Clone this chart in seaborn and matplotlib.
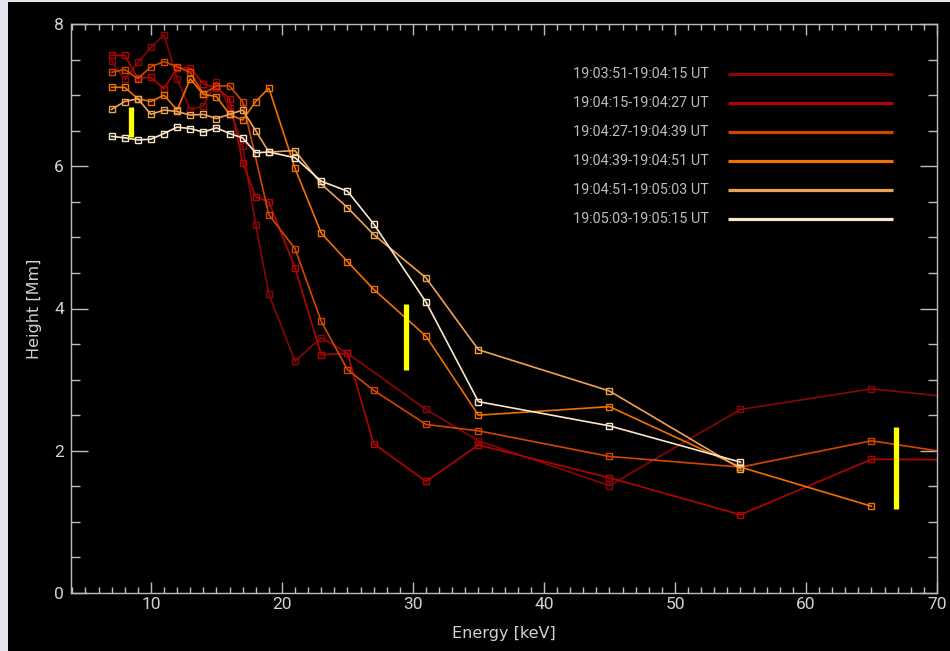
import numpy as np
import pandas as pd
import matplotlib
matplotlib.use("Agg")
import matplotlib.pyplot as plt
import seaborn as sns
from matplotlib.patches import Rectangle
from matplotlib.ticker import MultipleLocator

# ---------------- data ----------------
labels = ["19:03:51-19:04:15 UT", "19:04:15-19:04:27 UT", "19:04:27-19:04:39 UT",
          "19:04:39-19:04:51 UT", "19:04:51-19:05:03 UT", "19:05:03-19:05:15 UT"]
colors = ["#8a0606", "#b30303", "#d64500", "#f07000", "#eea254", "#fbe6cc"]

e1 = [7, 8, 9, 10, 11, 12, 13, 14, 15, 16, 17, 18, 19, 21, 23, 25, 31, 35, 45, 55, 65, 75]
h1 = [7.48, 7.22, 7.46, 7.67, 7.85, 7.23, 6.79, 6.85, 7.19, 6.82, 6.28, 5.18, 4.20, 3.26, 3.59,
      3.37, 2.58, 2.14, 1.51, 2.58, 2.87, 2.68]
e2 = [7, 8, 9, 10, 11, 12, 13, 14, 15, 16, 17, 18, 19, 21, 23, 25, 27, 31, 35, 45, 55, 65, 75]
h2 = [7.56, 7.56, 7.24, 7.25, 7.09, 7.38, 7.38, 7.16, 7.10, 6.95, 6.05, 5.57, 5.50, 4.57, 3.35,
      3.37, 2.10, 1.57, 2.08, 1.62, 1.10, 1.88, 1.87]
e3 = [7, 8, 9, 10, 11, 12, 13, 14, 15, 16, 17, 19, 21, 23, 25, 27, 31, 35, 45, 55, 65, 75]
h3 = [7.32, 7.36, 7.23, 7.40, 7.47, 7.40, 7.32, 7.02, 7.13, 7.13, 6.91, 5.32, 4.84, 3.82, 3.14,
      2.85, 2.37, 2.28, 1.92, 1.77, 2.14, 1.86]
e4 = [7, 8, 9, 10, 11, 12, 13, 14, 15, 16, 17, 18, 19, 21, 23, 25, 27, 31, 35, 45, 55, 65]
h4 = [7.11, 7.11, 6.95, 6.91, 7.00, 6.79, 7.23, 7.01, 6.98, 6.73, 6.65, 6.91, 7.10, 5.97, 5.06,
      4.66, 4.27, 3.61, 2.50, 2.62, 1.77, 1.22]
e5 = [7, 8, 9, 10, 11, 12, 13, 14, 15, 16, 17, 18, 19, 21, 23, 25, 27, 31, 35, 45, 55]
h5 = [6.80, 6.91, 6.95, 6.73, 6.79, 6.77, 6.72, 6.73, 6.67, 6.73, 6.79, 6.50, 6.20, 6.22, 5.75,
      5.42, 5.04, 4.43, 3.42, 2.84, 1.75]
e6 = [7, 8, 9, 10, 11, 12, 13, 14, 15, 16, 17, 18, 19, 21, 23, 25, 27, 31, 35, 45, 55]
h6 = [6.42, 6.40, 6.37, 6.38, 6.46, 6.55, 6.53, 6.48, 6.54, 6.46, 6.40, 6.19, 6.20, 6.12, 5.79,
      5.65, 5.19, 4.09, 2.69, 2.35, 1.84]

# yellow uncertainty bars
bar_x = [8.45, 29.45, 66.9]
bar_lo = [6.41, 3.13, 1.18]
bar_hi = [6.83, 4.07, 2.33]

x_ticks = [10, 20, 30, 40, 50, 60, 70]
y_ticks = [0, 2, 4, 6, 8]

energies = [e1, e2, e3, e4, e5, e6]
heights = [h1, h2, h3, h4, h5, h6]
df = pd.concat([pd.DataFrame({"energy": e, "height": h, "interval": lab})
                for e, h, lab in zip(energies, heights, labels)], ignore_index=True)

# ---------------- figure ----------------
plt.rcParams["font.family"] = ["Roboto", "DejaVu Sans"]
fig = plt.figure(figsize=(9.5, 6.51), dpi=100, facecolor="#e4e5f1")
bg = Rectangle((8 / 950, 0), 1, 649 / 651, transform=fig.transFigure,
               facecolor="black", edgecolor="none", zorder=-10)
fig.patches.append(bg)
ax = fig.add_axes([71 / 950, 58 / 651, 866 / 950, 569 / 651])
ax.set_zorder(1)
ax.set_facecolor("black")

sns.lineplot(data=df, x="energy", y="height", hue="interval", hue_order=labels,
             palette=dict(zip(labels, colors)), marker="s", markersize=4.0,
             mfc="none", mew=1.0, linewidth=1.2, estimator=None, sort=True,
             legend=False, ax=ax)
for ln, c in zip(ax.lines, colors):
    ln.set_markeredgecolor(c)

ax.vlines(bar_x, bar_lo, bar_hi, colors="#ffff00", linewidth=3.8, zorder=5)

ax.set_xlim(3.9, 70)
ax.set_ylim(0, 8)
ax.set_xticks(x_ticks)
ax.set_yticks(y_ticks)
ax.xaxis.set_minor_locator(MultipleLocator(1))
ax.yaxis.set_minor_locator(MultipleLocator(0.5))

tc = "#bdbdbd"
ax.tick_params(axis="both", which="both", direction="in", colors=tc,
               top=True, right=True, labelcolor="#d2d2d2", labelsize=12.5)
ax.tick_params(axis="x", which="major", length=8.2, width=1.0, pad=3)
ax.tick_params(axis="x", which="minor", length=4.2, width=1.0)
ax.tick_params(axis="y", which="major", length=12.5, width=1.0, pad=5)
ax.tick_params(axis="y", which="minor", length=6.3, width=1.0)
for sp in ax.spines.values():
    sp.set_color(tc)
    sp.set_linewidth(1.0)

ax.set_xlabel("Energy [keV]", family="DejaVu Sans", fontsize=11.5, color="#d2d2d2", labelpad=10)
ax.set_ylabel("Height [Mm]", family="DejaVu Sans", fontsize=11.5, color="#d2d2d2", labelpad=9)

# legend (text left, line right)
row_px = [74.3, 103, 132, 161.3, 190, 219.3]
for lab, c, ypx in zip(labels, colors, row_px):
    yf = (593 - ypx) / 569
    ax.text((573 - 71) / 866, yf, lab, transform=ax.transAxes, ha="left", va="center",
            fontsize=10.4, color="#bcbcbc")
    ax.plot([(728 - 71) / 866, (893 - 71) / 866], [yf, yf], transform=ax.transAxes,
            color=c, linewidth=2.3, solid_capstyle="butt")

fig.savefig("out.png", dpi=100, facecolor=fig.get_facecolor())
